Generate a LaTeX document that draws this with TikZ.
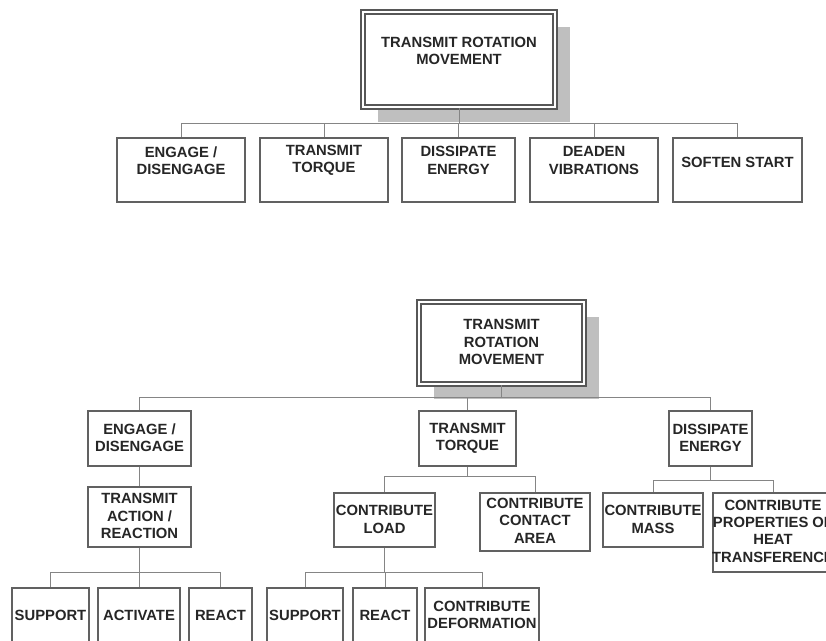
\documentclass[tikz,border=0pt]{standalone}
\usepackage{fontspec}
\setmainfont{Liberation Sans}
\usetikzlibrary{shadows}

\tikzset{
  box/.style={rectangle, draw=black!62, line width=1.4, fill=white, inner sep=0},
  rootbox/.style={box, draw=black!66, double=white, double distance=2.2, line width=1.6,
    drop shadow={shadow xshift=14.5, shadow yshift=14.5, fill=black!25, opacity=1}},
  lbl/.style={font=\fontsize{14.8}{17.4}\selectfont\bfseries, text=black!85,
    align=center, inner sep=0},
  link/.style={draw=black!48, line width=1}
}

% \orgbox[style]{name}{x1}{y1}{x2}{y2}{text y}{text}
\newcommand{\orgbox}[8][box]{%
  \node[#1, minimum width={#5-#3}, minimum height={#6-#4}] (#2)
    at ({(#3+#5)/2},{(#4+#6)/2}) {};
  \node[lbl] (#2-t) at ({(#3+#5)/2},#7) {#8};
}

\begin{document}
\begin{tikzpicture}[x=1pt,y=-1pt]
\useasboundingbox (0,0) rectangle (826,640);

% ---------- upper tree ----------
\orgbox[rootbox]{r1}{363}{12}{555}{107}{51}{TRANSMIT ROTATION\\MOVEMENT}
\orgbox{a1}{117}{138}{245}{202}{160.5}{ENGAGE /\\DISENGAGE}
\orgbox{a2}{260}{138}{388}{202}{160.5}{TRANSMIT\\TORQUE}
\orgbox{a3}{402}{138}{515}{202}{160.5}{DISSIPATE\\ENERGY}
\orgbox{a4}{530}{138}{658}{202}{160.5}{DEADEN\\VIBRATIONS}
\orgbox{a5}{673}{138}{802}{202}{162}{SOFTEN START}

\coordinate (bus1) at (459,123);
\draw[link] (r1.south) -- (r1.south |- bus1);
\foreach \n in {a1,a2,a3,a4,a5}
  \draw[link] (r1.south |- bus1) -| (\n.north);

% ---------- lower tree ----------
\orgbox[rootbox]{r2}{419}{302}{584}{384}{342}{TRANSMIT\\ROTATION\\MOVEMENT}
\orgbox{b1}{88}{411}{191}{466}{438}{ENGAGE /\\DISENGAGE}
\orgbox{b2}{419}{411}{516}{466}{438}{TRANSMIT\\TORQUE}
\orgbox{b3}{669}{411}{752}{466}{438}{DISSIPATE\\ENERGY}

\orgbox{c1}{88}{487}{191}{547}{516}{TRANSMIT\\ACTION /\\REACTION}
\orgbox{c2}{334}{493}{435}{547}{519.5}{CONTRIBUTE\\LOAD}
\orgbox{c3}{480}{493}{590}{551}{520.5}{CONTRIBUTE\\CONTACT\\AREA}
\orgbox{c4}{603}{493}{703}{547}{519.5}{CONTRIBUTE\\MASS}
\orgbox{c5}{713}{493}{833}{572}{531}{CONTRIBUTE\\PROPERTIES OF\\HEAT\\TRANSFERENCE}

\orgbox{d1}{12}{588}{89}{660}{615}{SUPPORT}
\orgbox{d2}{98}{588}{180}{660}{615}{ACTIVATE}
\orgbox{d3}{189}{588}{252}{660}{615}{REACT}
\orgbox{d4}{267}{588}{343}{660}{615}{SUPPORT}
\orgbox{d5}{353}{588}{417}{660}{615}{REACT}
\orgbox{d6}{425}{588}{539}{660}{615}{CONTRIBUTE\\DEFORMATION}

\coordinate (bus2) at (502,397);
\draw[link] (r2.south) -- (r2.south |- bus2);
\foreach \n in {b1,b2,b3}
  \draw[link] (r2.south |- bus2) -| (\n.north);

\draw[link] (b1.south) -- (c1.north);

\coordinate (bus3) at (467.5,476);
\draw[link] (b2.south) -- (b2.south |- bus3);
\foreach \n in {c2,c3}
  \draw[link] (b2.south |- bus3) -| (\n.north);

\coordinate (bus4) at (710.5,480);
\draw[link] (b3.south) -- (b3.south |- bus4);
\foreach \n in {c4,c5}
  \draw[link] (b3.south |- bus4) -| (\n.north);

\coordinate (bus5) at (139.5,572);
\draw[link] (c1.south) -- (c1.south |- bus5);
\foreach \n in {d1,d2,d3}
  \draw[link] (c1.south |- bus5) -| (\n.north);

\coordinate (bus6) at (384.5,572);
\draw[link] (c2.south) -- (c2.south |- bus6);
\foreach \n in {d4,d5,d6}
  \draw[link] (c2.south |- bus6) -| (\n.north);
\end{tikzpicture}
\end{document}
